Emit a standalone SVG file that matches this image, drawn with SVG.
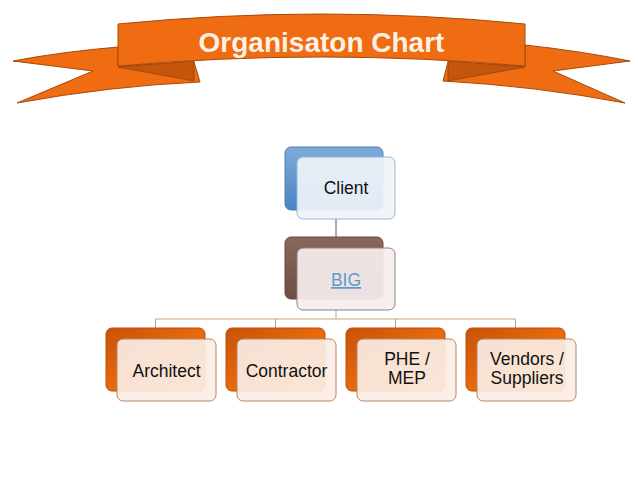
<svg xmlns="http://www.w3.org/2000/svg" width="638" height="479" viewBox="0 0 638 479">
<defs>
<style>
.rib{fill:#ef6c12;stroke:#a8480c;stroke-width:1;stroke-linejoin:round}
.fold{fill:#c4560c;stroke:#a8480c;stroke-width:1;stroke-linejoin:round}
.title{font-family:"Liberation Sans",Arial,sans-serif;font-weight:bold;font-size:28px;fill:#fcf1e2;text-anchor:middle}
.lbl{font-family:"Liberation Sans",Arial,sans-serif;font-size:17.5px;fill:#111;text-anchor:middle}
.conn{fill:none;stroke-width:1}
.fo{fill:#faede5;stroke:#b98462;stroke-width:1;fill-opacity:0.92}
</style>
<linearGradient id="gBlue" x1="0" y1="0" x2="0" y2="1">
<stop offset="0" stop-color="#7eacd9"/><stop offset="1" stop-color="#4a82c2"/>
</linearGradient>
<linearGradient id="gBrown" x1="0" y1="0" x2="0" y2="1">
<stop offset="0" stop-color="#8a675d"/><stop offset="1" stop-color="#6e4d43"/>
</linearGradient>
<linearGradient id="gOrange" x1="0" y1="0" x2="1" y2="1">
<stop offset="0" stop-color="#c85208"/><stop offset="0.5" stop-color="#e8680c"/><stop offset="1" stop-color="#f58a20"/>
</linearGradient>
</defs>
<rect width="638" height="479" fill="#ffffff"/>

<g id="banner">
<path class="rib" d="M118,47 Q60,52 13,61 L93,71 L17,103 Q110,86 200,82 L194,62 L118,66 Z"/>
<path class="rib" d="M525,45 Q580,51 630,61 L553,71 L625,103 Q535,86 443,81 L448,62 L525,66 Z"/>
<path class="fold" d="M118,67 L194,61 L194,81 Z"/>
<path class="fold" d="M525,67 L448,61 L448,81 Z"/>
<path class="rib" d="M118,24 Q321.5,4 525,24 L525,66 Q321.5,48 118,66 Z"/>
<text class="title" x="321.5" y="52">Organisaton Chart</text>
</g>

<g id="connectors">
<line class="conn" stroke="#5a5a5a" x1="336" y1="210" x2="336" y2="237"/>
<path class="conn" stroke="#c9a27a" d="M336,310 V319 M155.5,328 V319 H515.5 V328 M275.5,319 V328 M395.5,319 V328"/>
</g>

<g id="client">
<rect x="285" y="147" width="98" height="63" rx="6" fill="url(#gBlue)" stroke="#4a7fb8" stroke-width="1"/>
<rect x="297" y="157" width="98" height="62" rx="6" fill="#eef3f8" fill-opacity="0.93" stroke="#97b8da" stroke-width="1"/>
<text class="lbl" x="346" y="194">Client</text>
</g>

<g id="big">
<rect x="285" y="237" width="98" height="62" rx="6" fill="url(#gBrown)" stroke="#6a4a40" stroke-width="1"/>
<rect x="297" y="248" width="98" height="62" rx="6" fill="#f5eeed" fill-opacity="0.93" stroke="#8c8280" stroke-width="1"/>
<text class="lbl" x="346" y="286" fill="#5b9bcb" style="fill:#5b9bcb" text-decoration="underline">BIG</text>
</g>

<g id="architect">
<rect x="106" y="328" width="99" height="63" rx="6" fill="url(#gOrange)" stroke="#b9500c" stroke-width="1"/>
<rect class="fo" x="117" y="339" width="99" height="62" rx="6"/>
<text class="lbl" x="166.5" y="377">Architect</text>
</g>

<g id="contractor">
<rect x="226" y="328" width="99" height="63" rx="6" fill="url(#gOrange)" stroke="#b9500c" stroke-width="1"/>
<rect class="fo" x="237" y="339" width="99" height="62" rx="6"/>
<text class="lbl" x="286.5" y="377">Contractor</text>
</g>

<g id="phe">
<rect x="346" y="328" width="99" height="63" rx="6" fill="url(#gOrange)" stroke="#b9500c" stroke-width="1"/>
<rect class="fo" x="357" y="339" width="99" height="62" rx="6"/>
<text class="lbl" x="407" y="365">PHE /</text>
<text class="lbl" x="407" y="384">MEP</text>
</g>

<g id="vendors">
<rect x="466" y="328" width="99" height="63" rx="6" fill="url(#gOrange)" stroke="#b9500c" stroke-width="1"/>
<rect class="fo" x="477" y="339" width="99" height="62" rx="6"/>
<text class="lbl" x="527" y="365">Vendors /</text>
<text class="lbl" x="527" y="384">Suppliers</text>
</g>
</svg>
